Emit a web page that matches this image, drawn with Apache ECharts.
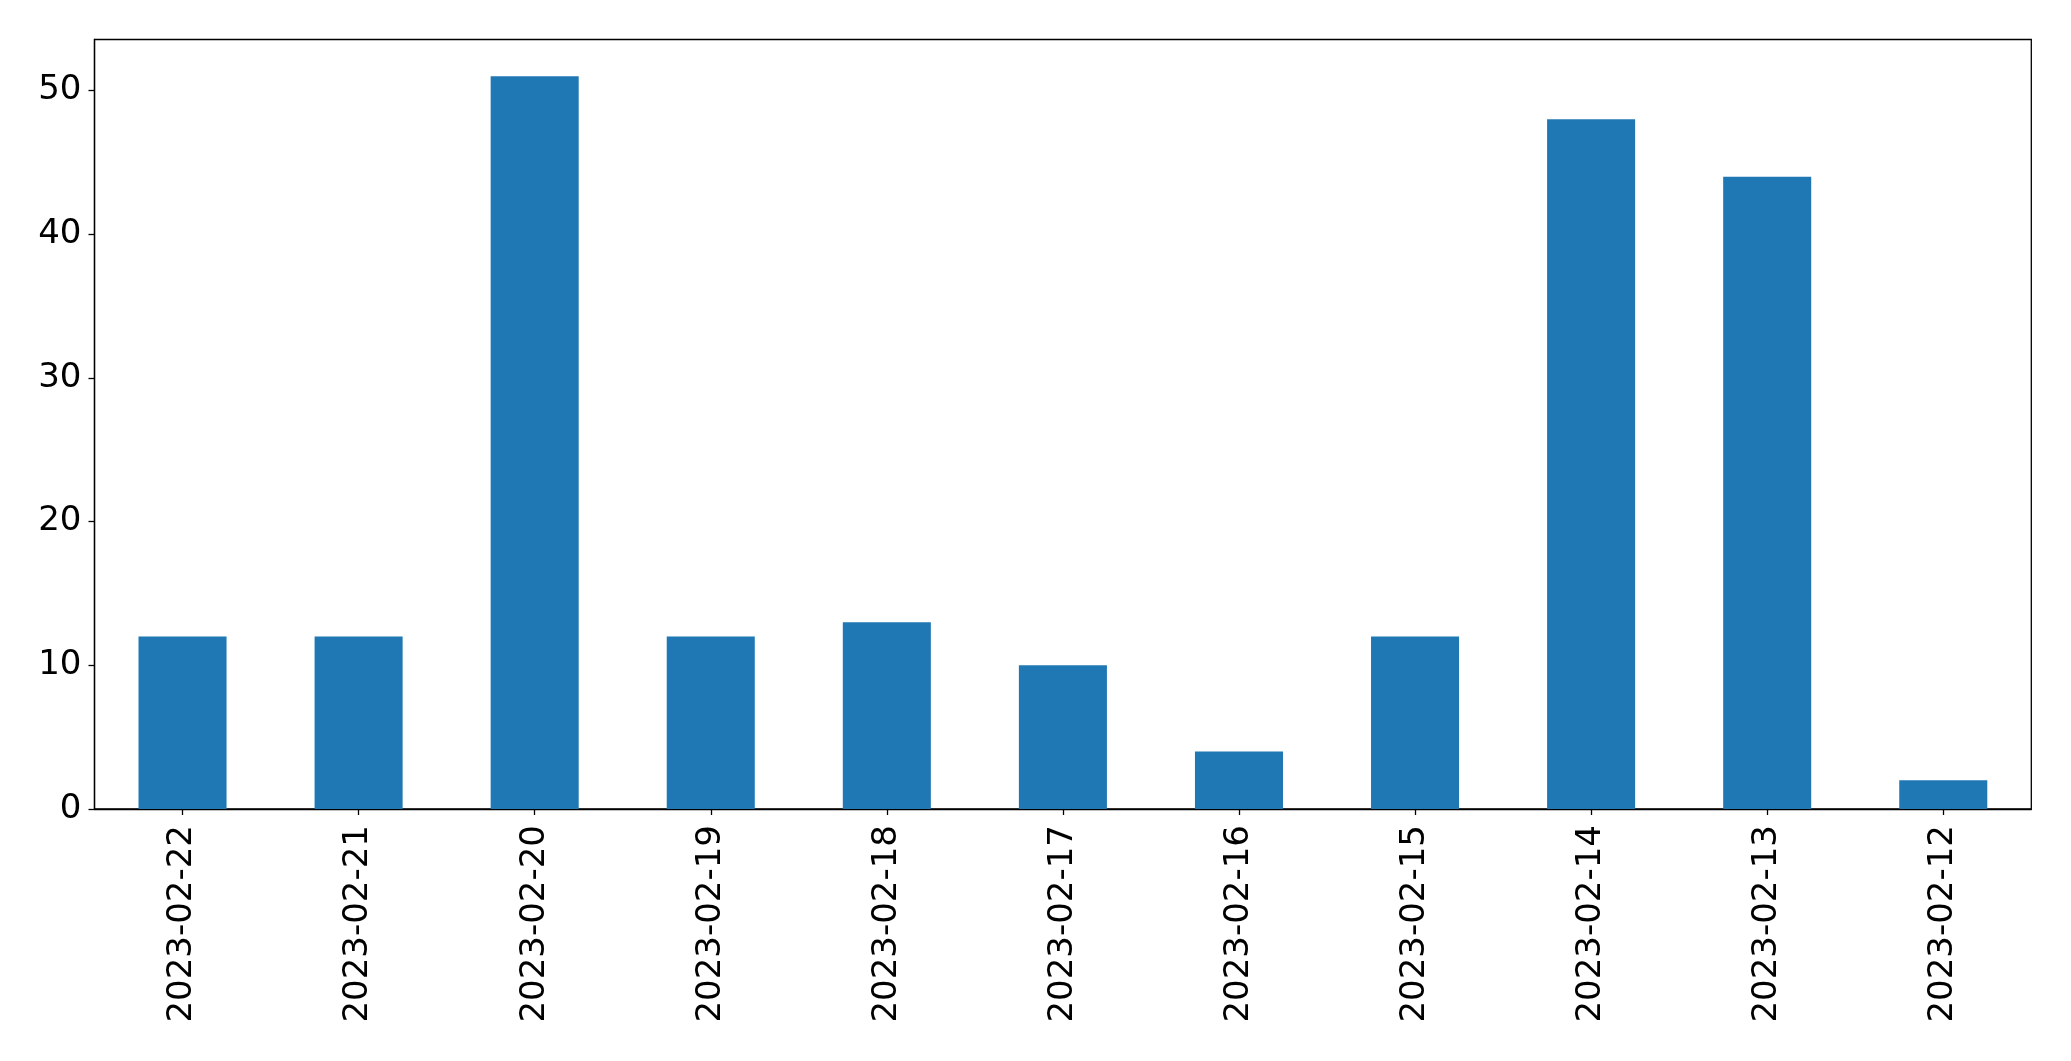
<!DOCTYPE html>
<html>
<head>
<meta charset="utf-8">
<script src="https://cdn.jsdelivr.net/npm/echarts@6/dist/echarts.min.js"></script>
<style>html,body{margin:0;padding:0;background:#fff;}#c{width:2071px;height:1061px;}</style>
</head>
<body>
<div id="c"></div>
<script>
const categories = ["2023-02-22","2023-02-21","2023-02-20","2023-02-19","2023-02-18","2023-02-17","2023-02-16","2023-02-15","2023-02-14","2023-02-13","2023-02-12"];
const values = [12, 12, 51, 12, 13, 10, 4, 12, 48, 44, 2];
const yTicks = [0, 10, 20, 30, 40, 50];

const chart = echarts.init(document.getElementById('c'), null, {renderer: 'canvas'});
const font = "'DejaVu Sans', sans-serif";
chart.setOption({
  animation: false,
  backgroundColor: '#ffffff',
  grid: {left: 94.5, top: 39.5, right: 39.7, bottom: 252, show: true, borderColor: '#000', borderWidth: 1.3, containLabel: false},
  xAxis: {
    type: 'category',
    data: categories,
    axisLine: {show: true, lineStyle: {color: '#000', width: 1.3}},
    axisTick: {show: true, alignWithLabel: true, length: 6, lineStyle: {color: '#000', width: 1.3}},
    axisLabel: {rotate: 90, margin: 16, color: '#000', fontSize: 34, fontFamily: font, interval: 0},
    splitLine: {show: false}
  },
  yAxis: {
    type: 'value',
    min: 0,
    max: 53.55,
    interval: 10,
    axisLine: {show: true, lineStyle: {color: '#000', width: 1.3}},
    axisTick: {show: true, length: 6, lineStyle: {color: '#000', width: 1.3}, customValues: yTicks},
    axisLabel: {margin: 13, color: '#000', fontSize: 34, fontFamily: font, customValues: yTicks},
    splitLine: {show: false}
  },
  series: [{
    type: 'bar',
    data: values,
    barWidth: '50%',
    itemStyle: {color: '#1f77b4'}
  }]
});
</script>
</body>
</html>
